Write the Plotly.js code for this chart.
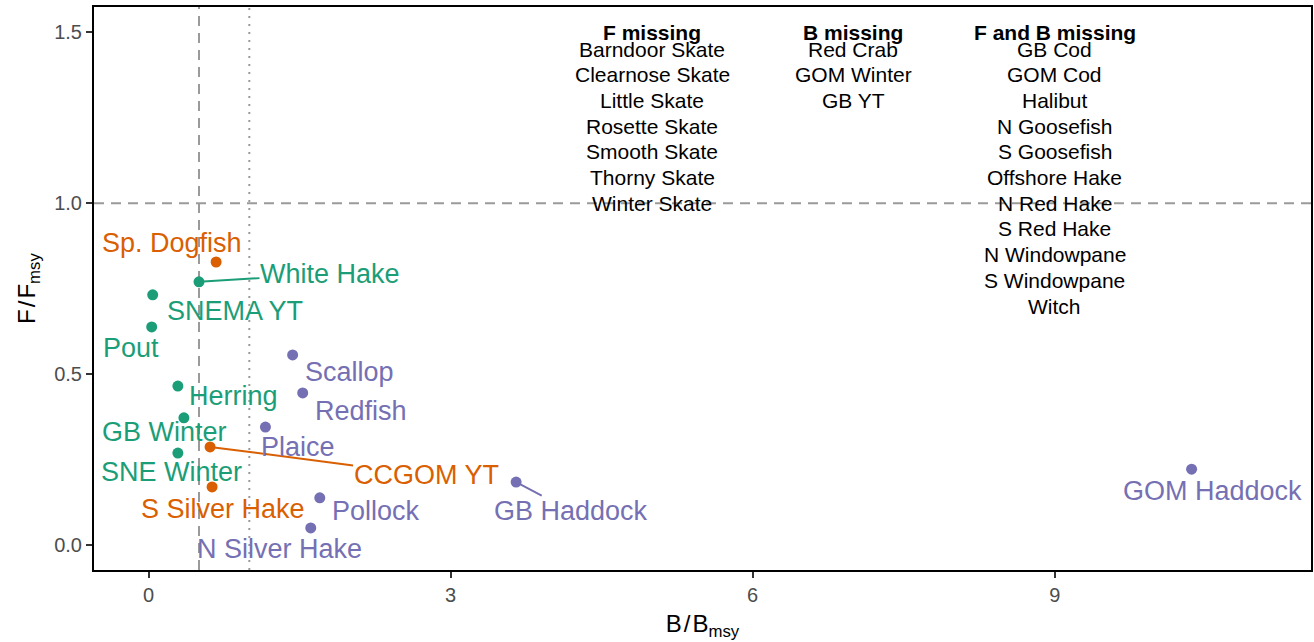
<!DOCTYPE html>
<html><head><meta charset="utf-8">
<script src="https://cdn.plot.ly/plotly-3.0.1.min.js"></script>
<style>html,body{margin:0;padding:0;background:#fff}#chart{width:1314px;height:642px}</style>
</head><body><div id="chart"></div>
<script>
// ---- data ----
const stocks = ["Sp. Dogfish","White Hake","SNEMA YT","Pout","Herring","GB Winter","SNE Winter","CCGOM YT","S Silver Hake","Scallop","Redfish","Plaice","Pollock","N Silver Hake","GB Haddock","GOM Haddock"];
const bRatio = [0.67, 0.50, 0.04, 0.03, 0.29, 0.35, 0.29, 0.61, 0.63, 1.43, 1.53, 1.16, 1.70, 1.61, 3.65, 10.36];
const fRatio = [0.828, 0.770, 0.732, 0.638, 0.465, 0.372, 0.269, 0.287, 0.170, 0.556, 0.445, 0.345, 0.138, 0.050, 0.184, 0.222];
const group  = ["B","A","A","A","A","A","A","B","B","C","C","C","C","C","C","C"];
const groups = ["A","B","C"];
const fMissing  = ["Barndoor Skate","Clearnose Skate","Little Skate","Rosette Skate","Smooth Skate","Thorny Skate","Winter Skate"];
const bMissing  = ["Red Crab","GOM Winter","GB YT"];
const fbMissing = ["GB Cod","GOM Cod","Halibut","N Goosefish","S Goosefish","Offshore Hake","N Red Hake","S Red Hake","N Windowpane","S Windowpane","Witch"];
const tableHeaders = ["F missing","B missing","F and B missing"];
const refBvals = [0.5, 1];
const refFvals = [1];

// ---- styles / positions ----
const groupColor = {A:"#1B9E77", B:"#D95F02", C:"#7570B3"};
const labelOffset = { // pixel offsets of label centre from point; arrow = draw segment
  "Sp. Dogfish":[-44,-19,false], "White Hake":[131,-8,true], "SNEMA YT":[82,16,false],
  "Pout":[-21,21,false], "Herring":[56,10,false], "GB Winter":[-19,14,false],
  "SNE Winter":[-6,19,false], "CCGOM YT":[216,28,true], "S Silver Hake":[11,22,false],
  "Scallop":[57,17,false], "Redfish":[58,18,false], "Plaice":[33,20,false],
  "Pollock":[56,13,false], "N Silver Hake":[-31,21,false], "GB Haddock":[55,29,true],
  "GOM Haddock":[21,22,false]
};
const tableCols = [5, 7, 9];
const FONT = "Liberation Sans, Arial, Helvetica, sans-serif";

const traces = groups.map(g => {
  const idx = stocks.map((s,i)=>i).filter(i=>group[i]===g);
  return {
    type:"scatter", mode:"markers", name:g,
    x: idx.map(i=>bRatio[i]), y: idx.map(i=>fRatio[i]),
    marker:{color:groupColor[g], size:11, line:{width:0}},
    hoverinfo:"skip", showlegend:false
  };
});

const annotations = [];
stocks.forEach((s,i)=>{
  const [dx,dy,arrow] = labelOffset[s];
  const col = groupColor[group[i]];
  if (arrow) {
    annotations.push({x:bRatio[i], y:fRatio[i], xref:"x", yref:"y", text:s,
      showarrow:true, arrowhead:0, arrowwidth:2, arrowcolor:col, standoff:0,
      ax:dx, ay:dy, font:{family:FONT, size:27, color:col}, borderpad:0});
  } else {
    annotations.push({x:bRatio[i], y:fRatio[i], xref:"x", yref:"y", text:s,
      showarrow:false, xshift:dx, yshift:-dy, xanchor:"center", yanchor:"middle",
      font:{family:FONT, size:27, color:col}});
  }
});

const lists = [fMissing, bMissing, fbMissing];
const headerY = 1.500, rowY0 = 1.451, rowStep = 0.0752;
lists.forEach((lst, c)=>{
  annotations.push({x:tableCols[c], y:headerY, xref:"x", yref:"y", showarrow:false,
    text:"<b>"+tableHeaders[c]+"</b>", xanchor:"center", yanchor:"middle",
    font:{family:FONT, size:21, color:"#000"}});
  lst.forEach((name, r)=>{
    annotations.push({x:tableCols[c], y:rowY0 - r*rowStep, xref:"x", yref:"y", showarrow:false,
      text:name, xanchor:"center", yanchor:"middle",
      font:{family:FONT, size:21, color:"#000"}});
  });
});

const shapes = [];
refBvals.forEach((v,k)=>shapes.push({type:"line", xref:"x", yref:"paper", x0:v, x1:v, y0:0, y1:1,
  line:{color:"#9a9a9a", width:2, dash: k===0 ? "10px,7px" : "2px,6px"}, layer:"below"}));
refFvals.forEach(v=>shapes.push({type:"line", xref:"paper", yref:"y", x0:0, x1:1, y0:v, y1:v,
  line:{color:"#9a9a9a", width:2, dash:"10px,7px"}, layer:"below"}));

const layout = {
  width:1314, height:642,
  margin:{l:94, r:3, t:7, b:72},
  paper_bgcolor:"#fff", plot_bgcolor:"#fff",
  font:{family:FONT},
  xaxis:{range:[-0.543, 11.546], tickvals:[0,3,6,9], ticktext:["0","3","6","9"],
    showgrid:false, zeroline:false, showline:true, linecolor:"#000", linewidth:2, mirror:true,
    ticks:"outside", ticklen:6, tickwidth:2, tickcolor:"#333",
    tickfont:{family:FONT, size:20, color:"#4d4d4d"},
    title:{text:"B\u200A/\u200AB<sub>msy</sub>", font:{family:FONT, size:24, color:"#000"}, standoff:10}},
  yaxis:{range:[-0.0731, 1.574], tickvals:[0,0.5,1,1.5], ticktext:["0.0","0.5","1.0","1.5"],
    showgrid:false, zeroline:false, showline:true, linecolor:"#000", linewidth:2, mirror:true,
    ticks:"outside", ticklen:6, tickwidth:2, tickcolor:"#333",
    tickfont:{family:FONT, size:20, color:"#4d4d4d"},
    title:{text:"F\u200A/\u200AF<sub>msy</sub>", font:{family:FONT, size:24, color:"#000"}, standoff:12}},
  annotations:annotations, shapes:shapes, showlegend:false
};
Plotly.newPlot("chart", traces, layout, {staticPlot:true, displayModeBar:false});
</script></body></html>
